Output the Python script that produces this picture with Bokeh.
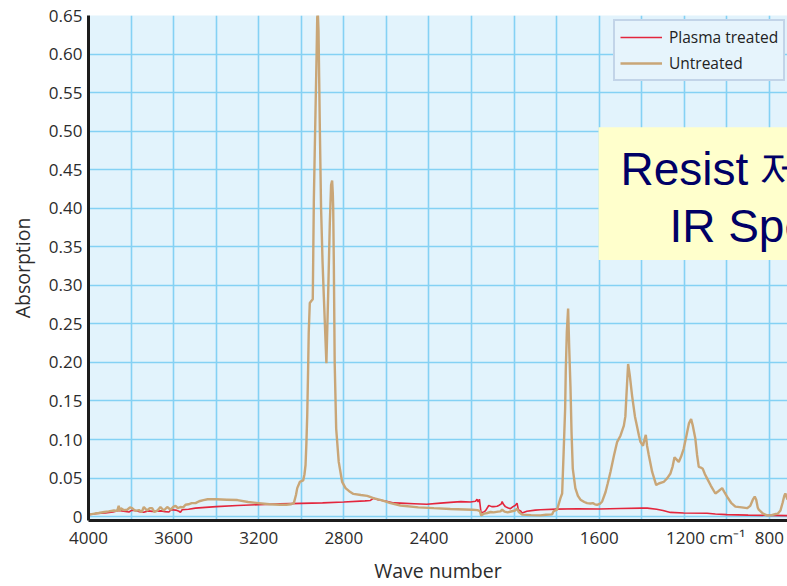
from bokeh.plotting import figure
from bokeh.models import Range1d, FixedTicker, NumeralTickFormatter, BoxAnnotation, Label
from bokeh.embed import file_html
from bokeh.resources import INLINE

# ---------------- data ----------------
series_names = ["Plasma treated", "Untreated"]

untreated_wn = [4000, 3970, 3952, 3925, 3905, 3880, 3865, 3858, 3853, 3848, 3835, 3818, 3805, 3795,
                3780, 3763, 3750, 3740, 3725, 3712, 3701, 3690, 3677, 3662, 3646, 3630, 3614, 3600,
                3591, 3580, 3568, 3555, 3544, 3530, 3515, 3497, 3480, 3460, 3440, 3400, 3350, 3300,
                3250, 3200, 3150, 3100, 3070, 3050, 3035, 3025, 3019, 3007, 2991, 2985, 2980, 2976,
                2972, 2968, 2965, 2960, 2952, 2946, 2941, 2937, 2933, 2928, 2925, 2922, 2919, 2916,
                2913, 2907, 2900, 2894, 2882, 2874, 2866, 2860, 2855, 2852, 2850, 2847, 2843, 2836,
                2824, 2808, 2792, 2775, 2755, 2720, 2690, 2661, 2620, 2581, 2534, 2450, 2377, 2300,
                2197, 2172, 2163, 2160, 2155, 2140, 2126, 2110, 2096, 2075, 2064, 2056, 2045, 2030,
                2010, 1995, 1986, 1978, 1962, 1920, 1876, 1850, 1821, 1814, 1798, 1782, 1774, 1767,
                1760, 1757, 1752, 1746, 1741, 1735, 1730, 1724, 1712, 1700, 1688, 1670, 1657, 1640,
                1630, 1620, 1610, 1595, 1586, 1570, 1560, 1547, 1530, 1516, 1500, 1484, 1477, 1472,
                1464, 1456, 1445, 1432, 1426, 1413, 1406, 1394, 1387, 1381, 1375, 1367, 1351, 1332,
                1320, 1297, 1280, 1265, 1255, 1246, 1236, 1226, 1215, 1203, 1190, 1178, 1168, 1160,
                1148, 1140, 1132, 1125, 1113, 1103, 1093, 1075, 1054, 1040, 1022, 1010, 999, 980,
                960, 930, 905, 890, 878, 869, 862, 855, 850, 830, 811, 790, 770, 760, 748, 738, 730,
                725, 720, 715]
untreated_abs = [0.0026, 0.004, 0.0047, 0.006, 0.0068, 0.008, 0.0075, 0.014, 0.007, 0.011, 0.0085,
                 0.009, 0.012, 0.011, 0.0075, 0.0085, 0.006, 0.0125, 0.008, 0.011, 0.011, 0.006,
                 0.0077, 0.0125, 0.008, 0.0125, 0.009, 0.013, 0.014, 0.011, 0.0125, 0.012, 0.0154,
                 0.016, 0.0175, 0.0175, 0.020, 0.0215, 0.0225, 0.0225, 0.022, 0.0215, 0.019, 0.0175,
                 0.016, 0.0155, 0.0155, 0.016, 0.0175, 0.028, 0.037, 0.045, 0.047, 0.055, 0.067,
                 0.095, 0.132, 0.19, 0.239, 0.277, 0.28, 0.282, 0.41, 0.47, 0.528, 0.60, 0.648,
                 0.652, 0.63, 0.57, 0.507, 0.40, 0.33, 0.285, 0.199, 0.285, 0.38, 0.43, 0.436, 0.42,
                 0.40, 0.327, 0.199, 0.114, 0.071, 0.045, 0.037, 0.033, 0.0295, 0.028, 0.027, 0.024,
                 0.021, 0.0175, 0.0145, 0.012, 0.011, 0.010, 0.009, 0.0085, 0.0075, 0.0068, 0.0017,
                 0.004, 0.0047, 0.006, 0.0056, 0.0065, 0.0068, 0.009, 0.0065, 0.0056, 0.007, 0.008,
                 0.0103, 0.006, 0.0026, 0.002, 0.0017, 0.0025, 0.003, 0.007, 0.009, 0.024, 0.030,
                 0.084, 0.14, 0.19, 0.24, 0.27, 0.22, 0.169, 0.11, 0.062, 0.037, 0.027, 0.022, 0.019,
                 0.0175, 0.017, 0.0175, 0.016, 0.0154, 0.017, 0.0197, 0.032, 0.043, 0.058, 0.08,
                 0.0966, 0.105, 0.118, 0.13, 0.157, 0.198, 0.183, 0.156, 0.13, 0.122, 0.105, 0.097,
                 0.092, 0.100, 0.106, 0.092, 0.080, 0.058, 0.041, 0.043, 0.045, 0.05, 0.056, 0.065,
                 0.077, 0.074, 0.071, 0.078, 0.088, 0.105, 0.121, 0.1265, 0.118, 0.101, 0.08, 0.0645,
                 0.064, 0.062, 0.055, 0.0496, 0.04, 0.030, 0.033, 0.037, 0.031, 0.026, 0.018, 0.013,
                 0.012, 0.011, 0.014, 0.022, 0.026, 0.022, 0.012, 0.009, 0.004, 0.0017, 0.002,
                 0.0034, 0.004, 0.008, 0.018, 0.027, 0.030, 0.026, 0.022]

plasma_wn = [4000, 3960, 3920, 3885, 3858, 3835, 3810, 3795, 3779, 3760, 3740, 3720, 3700, 3685,
             3660, 3640, 3622, 3612, 3590, 3575, 3568, 3560, 3530, 3497, 3450, 3400, 3300, 3200,
             3100, 3000, 2900, 2800, 2700, 2675, 2660, 2640, 2600, 2565, 2534, 2470, 2410, 2346,
             2300, 2250, 2205, 2181, 2174, 2169, 2163, 2155, 2140, 2134, 2119, 2105, 2096, 2080,
             2072, 2060, 2056, 2050, 2041, 2030, 2017, 2005, 1995, 1986, 1980, 1970, 1962, 1940,
             1900, 1876, 1800, 1700, 1600, 1500, 1400, 1374, 1330, 1300, 1265, 1203, 1093, 1054,
             1000, 900, 800, 715]
plasma_abs = [0.0026, 0.004, 0.0047, 0.006, 0.008, 0.007, 0.006, 0.0085, 0.008, 0.0065, 0.0058,
              0.0075, 0.0068, 0.007, 0.0075, 0.0065, 0.006, 0.009, 0.0085, 0.007, 0.0055, 0.009,
              0.0095, 0.011, 0.012, 0.013, 0.0145, 0.0155, 0.0165, 0.0172, 0.0178, 0.019, 0.0205,
              0.021, 0.024, 0.022, 0.020, 0.0178, 0.0175, 0.0168, 0.016, 0.0175, 0.0185, 0.0195,
              0.019, 0.020, 0.0226, 0.019, 0.0226, 0.0047, 0.0065, 0.0077, 0.0145, 0.013, 0.013,
              0.0135, 0.0145, 0.0165, 0.0197, 0.016, 0.013, 0.0115, 0.0103, 0.013, 0.0145, 0.0175,
              0.009, 0.0075, 0.0047, 0.007, 0.0085, 0.009, 0.0098, 0.0103, 0.0100, 0.0105, 0.011,
              0.011, 0.0095, 0.008, 0.0055, 0.0047, 0.0045, 0.0035, 0.0026, 0.002, 0.0016, 0.0013]

x_ticks = [4000, 3600, 3200, 2800, 2400, 2000, 1600, 1200, 800]
x_minor = [3800, 3400, 3000, 2600, 2200, 1800, 1400, 1000]
y_ticks = [0, 0.05, 0.10, 0.15, 0.20, 0.25, 0.30, 0.35, 0.40, 0.45, 0.50, 0.55, 0.60, 0.65]
unit_tick = 1200
unit_tick_label = "\u2003\u2003\u20021200 cm\u207b\u00b9"

x_title = "Wave number"
y_title = "Absorption"
box_lines = ["Resist 제거", "IR Spectrum"]

# ---------------- figure ----------------
p = figure(width=787, height=586,
           x_range=Range1d(4000, 715), y_range=Range1d(-0.005, 0.65),
           output_backend="svg", toolbar_location=None,
           background_fill_color="#e2f3fc", border_fill_color="white",
           outline_line_color=None)
p.min_border = 0
p.min_border_left = 88
p.min_border_right = 0
p.min_border_top = 15
p.min_border_bottom = 60

grid_color = "#84d1f4"
p.xaxis.ticker = FixedTicker(ticks=x_ticks, minor_ticks=x_minor)
p.yaxis.ticker = FixedTicker(ticks=y_ticks)
p.yaxis.formatter = NumeralTickFormatter(format="0.00")
p.yaxis.major_label_overrides = {0: "0"}
p.xaxis.major_label_overrides = {unit_tick: unit_tick_label}

p.xgrid.grid_line_color = grid_color
p.xgrid.grid_line_width = 1.6
p.xgrid.minor_grid_line_color = grid_color
p.xgrid.minor_grid_line_width = 1.6
p.ygrid.grid_line_color = grid_color
p.ygrid.grid_line_width = 1.6

for ax in (p.xaxis[0], p.yaxis[0]):
    ax.axis_line_color = "#1c1c1c"
    ax.axis_line_width = 3
    ax.major_tick_line_color = None
    ax.minor_tick_line_color = None
    ax.major_tick_out = 0
    ax.major_tick_in = 0
    ax.minor_tick_out = 0
    ax.minor_tick_in = 0
    ax.major_label_text_font = "Open Sans"
    ax.major_label_text_font_size = "17px"
    ax.major_label_text_color = "#2c2c2c"
    ax.axis_label_text_font = "Open Sans"
    ax.axis_label_text_font_size = "19.5px"
    ax.axis_label_text_font_style = "normal"
    ax.axis_label_text_color = "#2c2c2c"

p.xaxis.axis_label = x_title
p.yaxis.axis_label = y_title
p.xaxis.major_label_standoff = 5
p.xaxis.axis_label_standoff = 5
p.yaxis.major_label_standoff = 6
p.yaxis.axis_label_standoff = 10

# series
p.line(plasma_wn, plasma_abs, line_color="#e3263d", line_width=1.6, legend_label=series_names[0])
p.line(untreated_wn, untreated_abs, line_color="#c9a677", line_width=2.4, legend_label=series_names[1])

# legend
lg = p.legend[0]
lg.location = (525, 439)
lg.background_fill_color = "#e6f4fc"
lg.background_fill_alpha = 1
lg.border_line_color = "#9db3d3"
lg.border_line_width = 2
lg.label_text_font = "Open Sans"
lg.label_text_font_size = "15.5px"
lg.label_text_color = "#222222"
lg.glyph_width = 42
lg.glyph_height = 22
lg.label_height = 22
lg.label_standoff = 7
lg.spacing = 4
lg.padding = 5
lg.margin = 0

# yellow title box (cut off at the right edge, as in the source)
p.add_layout(BoxAnnotation(left=1603, bottom=0.333, top=0.505, fill_color="#ffffcc",
                           fill_alpha=1, line_color=None, level="annotation"))
p.add_layout(Label(x=1500, y=0.451, text=box_lines[0], text_baseline="middle",
                   text_font="Liberation Sans", text_font_size="46px", text_color="#000066"))
p.add_layout(Label(x=1270, y=0.377, text=box_lines[1], text_baseline="middle",
                   text_font="Liberation Sans", text_font_size="46px", text_color="#000066"))

open("out.html", "w").write(file_html(p, INLINE))
